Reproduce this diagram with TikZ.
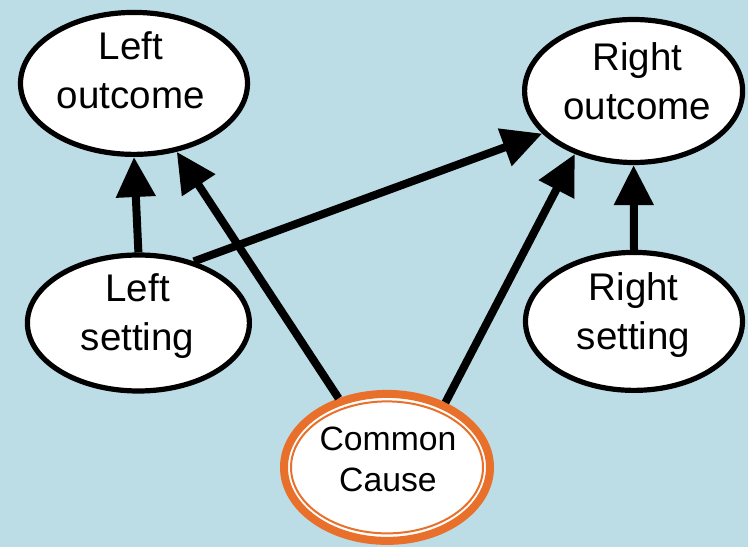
\documentclass[tikz,border=0pt]{standalone}
\usepackage{xcolor}
\usepackage{fontspec}
\setmainfont{Liberation Sans}
\usepackage{tikz}
\usetikzlibrary{shapes.geometric,arrows.meta}

\definecolor{skyback}{RGB}{188,220,230}
\definecolor{causeorange}{RGB}{232,112,42}

\begin{document}
\begin{tikzpicture}[
    bubble/.style={ellipse, draw=black, line width=1.3mm, fill=white, inner sep=0pt},
    causebubble/.style={ellipse, draw=causeorange, line width=2mm, fill=white, inner sep=0pt},
    words/.style={align=center, inner sep=0pt, font=\fontsize{27.4}{35}\selectfont},
    causewords/.style={align=center, inner sep=0pt, font=\fontsize{24}{29}\selectfont},
    link/.style={-{Triangle[length=10mm,width=9.5mm]}, line width=2mm},
  ]
             \useasboundingbox[fill=skyback] (0,0) rectangle (18.7,13.675);

             % outcomes on top, settings below them
             \node[bubble, minimum width=5.675cm, minimum height=3.55cm] (lo) at (3.35, 11.59) {};
             \node[bubble, minimum width=5.45cm, minimum height=3.575cm] (ro) at (15.84, 11.4) {};
             \node[bubble, minimum width=5.55cm, minimum height=3.4cm] (ls) at (3.46, 5.6) {};
             \node[bubble, minimum width=5.425cm, minimum height=3.45cm] (rs) at (15.85, 5.64) {};

             \node[words] (lo-txt) at (3.27, 11.92) {Left\\outcome};
             \node[words] (ro-txt) at (15.93, 11.65) {Right\\outcome};
             \node[words] (ls-txt) at (3.44, 5.78) {Left\\setting};
             \node[words] (rs-txt) at (15.84, 5.79) {Right\\setting};

             % the common cause, with a thin second ring inside
             \node[causebubble, minimum width=5.15cm, minimum height=3.675cm] (cc) at (9.675, 1.99) {};
             \draw[causeorange, line width=.5mm] (cc.center) ellipse (2.4cm and 1.65cm);
             \node[causewords] (cc-txt) at (9.7, 2.19) {Common\\Cause};

             \draw[link] (ls.north) -- (lo.south);
             \draw[link] (rs.north) -- (ro.south);
             \draw[link] (ls.48) -- (ro.205);
             \draw[link] (cc.125) -- (lo.302);
             \draw[link] (cc.48) -- (ro.227);
             \end{tikzpicture}
\end{document}
